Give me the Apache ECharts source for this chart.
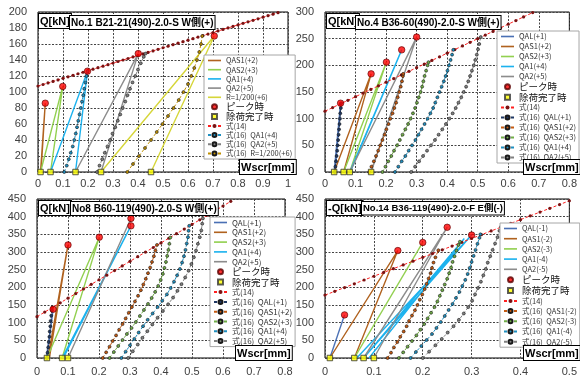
<!DOCTYPE html>
<html>
<head>
<meta charset="utf-8">
<script src="https://cdn.jsdelivr.net/npm/echarts@6/dist/echarts.min.js"></script>
<style>
  html, body { margin: 0; padding: 0; background: #fff; }
  #chart { width: 580px; height: 378px; }
</style>
</head>
<body>
<div id="chart"></div>
<script>
// ---- No.1 B21-21 ----
const p1Eq14 = [[0,107.5],[0.02,109.4],[0.04,111.3],[0.06,113.2],[0.08,115.1],[0.1,117.1],[0.12,119],[0.14,120.9],[0.16,122.8],[0.18,124.7],[0.2,126.6],[0.22,128.5],[0.24,130.4],[0.26,132.3],[0.28,134.2],[0.3,136.2],[0.32,138.1],[0.34,140],[0.36,141.9],[0.38,143.8],[0.4,145.7],[0.42,147.6],[0.44,149.5],[0.46,151.4],[0.48,153.3],[0.5,155.3],[0.52,157.2],[0.54,159.1],[0.56,161],[0.58,162.9],[0.6,164.8],[0.62,166.7],[0.64,168.6],[0.66,170.5],[0.68,172.4],[0.7,174.4],[0.72,176.3],[0.74,178.2],[0.76,180.1],[0.78,182],[0.8,183.9],[0.82,185.8],[0.84,187.7],[0.86,189.6],[0.88,191.5],[0.9,193.5],[0.92,195.4],[0.94,197.3],[0.96,199.2]];
const p1Peak = [[0.029,86],[0.099,107],[0.198,126],[0.401,148],[0.705,170]];
const p1Unload = [[0.01,0],[0.05,0],[0.15,0],[0.252,0],[0.452,0]];
const p1QAS1 = [[0.012,0],[0.029,86],[0.01,0]];
const p1QAS2 = [[0.01,0],[0.099,107],[0.05,0]];
const p1QA1 = [[0.05,0],[0.198,126],[0.15,0]];
const p1QA2 = [[0.15,0],[0.401,148],[0.252,0]];
const p1R200 = [[0.252,0],[0.705,170],[0.452,0]];
const p1Eq16QA1 = [[0.105,0],[0.115,8],[0.123,16],[0.131,24],[0.139,32],[0.145,40],[0.151,48],[0.156,56],[0.161,64],[0.166,72],[0.171,80],[0.176,88],[0.181,96],[0.185,104],[0.19,112],[0.194,120],[0.198,126]];
const p1Eq16QA2 = [[0.236,0],[0.246,8],[0.257,16],[0.267,24],[0.278,32],[0.288,40],[0.298,48],[0.309,56],[0.319,64],[0.329,72],[0.339,80],[0.349,88],[0.358,96],[0.368,104],[0.378,112],[0.389,120],[0.4,128],[0.411,136],[0.423,144],[0.43,148]];
const p1Eq16R200 = [[0.357,0],[0.38,10],[0.404,20],[0.428,30],[0.452,40],[0.475,50],[0.498,60],[0.52,70],[0.542,80],[0.563,90],[0.582,100],[0.6,110],[0.613,120],[0.625,130],[0.636,140],[0.645,150],[0.652,160],[0.657,170]];

// ---- No.4 B36-60 ----
const p2Eq14 = [[0,114],[0.025,120.8],[0.05,127.6],[0.075,134.4],[0.1,141.2],[0.125,148],[0.15,154.8],[0.175,161.6],[0.2,168.4],[0.225,175.2],[0.25,182],[0.275,188.8],[0.3,195.6],[0.325,202.4],[0.35,209.2],[0.375,216],[0.4,222.8],[0.425,229.6],[0.45,236.4],[0.475,243.2],[0.5,250],[0.525,256.8],[0.55,263.6],[0.575,270.4],[0.6,277.2],[0.625,284],[0.65,290.8],[0.68,299]];
const p2Peak = [[0.051,129],[0.151,184],[0.201,206],[0.251,229],[0.3,253]];
const p2Unload = [[0.03,0],[0.061,0],[0.081,0],[0.151,0]];
const p2QAL = [[0.03,0],[0.051,129],[0.033,0]];
const p2QAS1 = [[0.03,0],[0.151,184],[0.061,0]];
const p2QAS2 = [[0.061,0],[0.201,206],[0.081,0]];
const p2QA1 = [[0.081,0],[0.251,229],[0.083,0]];
const p2QA2 = [[0.081,0],[0.3,253],[0.151,0]];
const p2Eq16QAL = [[0.032,0],[0.034,10],[0.036,20],[0.038,30],[0.04,40],[0.0415,50],[0.043,60],[0.0445,70],[0.046,80],[0.0475,90],[0.049,100],[0.05,110],[0.052,120],[0.053,129]];
const p2Eq16QAS1 = [[0.145,0],[0.152,10],[0.16,20],[0.167,30],[0.174,40],[0.181,50],[0.188,60],[0.195,70],[0.201,80],[0.208,90],[0.214,100],[0.221,110],[0.227,120],[0.233,130],[0.238,140],[0.243,150],[0.248,160],[0.252,170],[0.255,180],[0.256,184]];
const p2Eq16QAS2 = [[0.188,0],[0.198,10],[0.207,20],[0.217,30],[0.226,40],[0.236,50],[0.245,60],[0.254,70],[0.263,80],[0.272,90],[0.28,100],[0.288,110],[0.295,120],[0.301,130],[0.307,140],[0.313,150],[0.318,160],[0.322,170],[0.326,180],[0.331,190],[0.336,200],[0.339,206]];
const p2Eq16QA1 = [[0.229,0],[0.24,10],[0.251,20],[0.263,30],[0.274,40],[0.285,50],[0.296,60],[0.306,70],[0.316,80],[0.326,90],[0.336,100],[0.345,110],[0.354,120],[0.361,130],[0.368,140],[0.375,150],[0.382,160],[0.389,170],[0.395,180],[0.401,190],[0.406,200],[0.411,210],[0.416,220],[0.42,229]];
const p2Eq16QA2 = [[0.282,0],[0.295,10],[0.308,20],[0.321,30],[0.334,40],[0.347,50],[0.36,60],[0.372,70],[0.384,80],[0.396,90],[0.407,100],[0.418,110],[0.428,120],[0.437,130],[0.446,140],[0.454,150],[0.462,160],[0.469,170],[0.475,180],[0.481,190],[0.487,200],[0.492,210],[0.497,220],[0.501,230],[0.505,240],[0.51,253]];

// ---- No8 B60-119 ----
const p3Eq14 = [[0,117],[0.025,130],[0.05,143.1],[0.075,156.2],[0.1,169.2],[0.125,182.3],[0.15,195.3],[0.175,208.4],[0.2,221.4],[0.225,234.5],[0.25,247.5],[0.275,260.6],[0.3,273.6],[0.325,286.7],[0.35,299.7],[0.375,312.8],[0.4,325.8],[0.425,338.9],[0.45,351.9],[0.475,365],[0.5,378],[0.525,391.1],[0.55,404.1],[0.575,417.2],[0.6,430.2],[0.625,443.3]];
const p3Peak = [[0.052,138],[0.1,320],[0.201,342],[0.303,374],[0.303,395]];
const p3Unload = [[0.032,0],[0.081,0],[0.1,0]];
const p3QAL = [[0.03,0],[0.052,138],[0.032,0]];
const p3QAS1 = [[0.035,0],[0.1,320],[0.04,0]];
const p3QAS2 = [[0.032,0],[0.201,342],[0.081,0]];
const p3QA1 = [[0.081,0],[0.303,374],[0.085,0]];
const p3QA2 = [[0.1,0],[0.303,395],[0.1,0]];
const p3Eq16QAL = [[0.032,0],[0.034,15],[0.036,30],[0.038,45],[0.04,60],[0.041,75],[0.043,90],[0.044,105],[0.046,120],[0.048,135]];
const p3Eq16QAS1 = [[0.212,0],[0.223,16],[0.234,32],[0.244,48],[0.255,64],[0.265,80],[0.276,96],[0.286,112],[0.296,128],[0.306,144],[0.316,160],[0.326,176],[0.335,192],[0.343,208],[0.351,224],[0.358,240],[0.365,256],[0.371,272],[0.377,288],[0.382,304],[0.387,320]];
const p3Eq16QAS2 = [[0.234,0],[0.248,17],[0.262,34],[0.276,51],[0.29,68],[0.305,85],[0.319,102],[0.332,119],[0.345,136],[0.358,153],[0.37,170],[0.381,187],[0.391,204],[0.399,221],[0.406,238],[0.411,255],[0.416,272],[0.42,289],[0.424,306],[0.427,323],[0.43,341]];
const p3Eq16QA1 = [[0.272,0],[0.286,18],[0.3,36],[0.314,54],[0.328,72],[0.342,90],[0.357,108],[0.373,126],[0.389,144],[0.404,162],[0.419,180],[0.431,198],[0.442,216],[0.452,234],[0.461,252],[0.468,270],[0.474,288],[0.479,306],[0.483,324],[0.487,342],[0.489,360],[0.491,374]];
const p3Eq16QA2 = [[0.294,0],[0.309,19],[0.325,38],[0.34,57],[0.356,76],[0.372,95],[0.389,114],[0.406,133],[0.423,152],[0.439,171],[0.453,190],[0.466,209],[0.478,228],[0.489,247],[0.498,266],[0.506,285],[0.513,304],[0.519,323],[0.525,342],[0.53,361],[0.533,380],[0.535,395]];

// ---- No.14 B36-119 ----
const p4Eq14 = [[0,178],[0.02,188.7],[0.04,199.4],[0.06,210],[0.08,220.7],[0.1,231.4],[0.12,242.1],[0.14,252.8],[0.16,263.4],[0.18,274.1],[0.2,284.8],[0.22,295.5],[0.24,306.2],[0.26,316.8],[0.28,327.5],[0.3,338.2],[0.32,348.9],[0.34,359.6],[0.36,370.2],[0.38,380.9],[0.4,391.6],[0.42,402.3],[0.44,413],[0.46,423.6],[0.48,434.3],[0.5,445]];
const p4Peak = [[0.04,122],[0.149,304],[0.2,327],[0.25,370],[0.3,348]];
const p4Unload = [[0.01,0],[0.06,0],[0.079,0],[0.1,0]];
const p4QAL = [[0.01,0],[0.04,122]];
const p4QAS1 = [[0.01,0],[0.149,304],[0.06,0]];
const p4QAS2 = [[0.06,0],[0.2,327]];
const p4QA1 = [[0.065,0],[0.3,348],[0.079,0],[0.285,338],[0.09,0]];
const p4QA2 = [[0.079,0],[0.25,370],[0.1,0]];
const p4Eq16QAS1 = [[0.128,0],[0.135,15],[0.141,30],[0.148,45],[0.154,60],[0.161,75],[0.167,90],[0.172,105],[0.178,120],[0.184,135],[0.189,150],[0.194,165],[0.199,180],[0.204,195],[0.208,210],[0.212,225],[0.216,240],[0.219,255],[0.222,270],[0.226,285],[0.232,305]];
const p4Eq16QAS2 = [[0.151,0],[0.16,16],[0.169,32],[0.178,48],[0.187,64],[0.195,80],[0.203,96],[0.21,112],[0.217,128],[0.224,144],[0.23,160],[0.235,176],[0.24,192],[0.245,208],[0.25,224],[0.254,240],[0.258,256],[0.261,272],[0.265,288],[0.269,304],[0.273,320],[0.276,329]];
const p4Eq16QA1 = [[0.175,0],[0.186,17],[0.197,34],[0.208,51],[0.219,68],[0.228,85],[0.237,102],[0.245,119],[0.253,136],[0.261,153],[0.268,170],[0.275,187],[0.281,204],[0.287,221],[0.292,238],[0.296,255],[0.3,272],[0.304,289],[0.308,306],[0.312,323],[0.316,340],[0.318,350]];
const p4Eq16QA2 = [[0.2,0],[0.213,18],[0.226,36],[0.239,54],[0.251,72],[0.263,90],[0.274,108],[0.284,126],[0.293,144],[0.301,162],[0.307,180],[0.313,198],[0.319,216],[0.324,234],[0.329,252],[0.333,270],[0.338,288],[0.343,306],[0.348,324],[0.353,342],[0.357,360],[0.36,371]];

const titles = ['No.1 B21-21(490)-2.0-S W側(+)', 'No.4 B36-60(490)-2.0-S W側(+)', 'No8 B60-119(490)-2.0-S W側(+)', 'No.14 B36-119(490)-2.0-F E側(-)'];
const xMax = [1, 0.8, 0.8, 0.5];
const yMax = [200, 300, 450, 450];
const yStep = [20, 50, 50, 50];

const C = { QAL: '#4a70b4', QAS1: '#b0621f', QAS2: '#92d050', QA1: '#1cb2ee', QA2: '#8c8c8c', R: '#d6d63a' };
const F = { QAL: '#1f3864', QAS1: '#c55a11', QAS2: '#70ad47', QA1: '#1f8fc0', QA2: '#808080', R: '#bf9000' };
const CJK = '"Noto Sans CJK JP",sans-serif';
const PLAIN = '"Liberation Sans","Noto Sans CJK JP",sans-serif';

const grids = [
  { left: 38, top: 12, width: 250, height: 160 },
  { left: 325, top: 12, width: 248, height: 160 },
  { left: 37, top: 199, width: 248, height: 159 },
  { left: 325, top: 199, width: 248, height: 159 }
];

const gridLine = { show: true, lineStyle: { color: '#444', width: 1, type: [2, 1.5] } };
const BAR_ICON = 'path://M0,0L16,0L16,2L0,2Z';
const SQ_ICON = 'path://M0,0L1,0L1,1L0,1Z';

function unload(name, data, color, i) {
  return { name, type: 'line', xAxisIndex: i, yAxisIndex: i, data, symbol: 'none', z: 2,
    lineStyle: { color, width: 1.4 }, itemStyle: { color } };
}
function eq16(name, data, color, i) {
  return { name, type: 'line', xAxisIndex: i, yAxisIndex: i, data, symbol: 'circle', symbolSize: 3, showAllSymbol: true, z: 3,
    lineStyle: { color, width: 1, type: [3, 2] }, itemStyle: { color, borderColor: '#1a1a1a', borderWidth: 0.6 } };
}
function eq14(data, i) {
  return { name: '式(14)', type: 'line', xAxisIndex: i, yAxisIndex: i, data, symbol: 'circle', symbolSize: 3.2, showAllSymbol: true, z: 3,
    lineStyle: { color: '#ff2020', width: 1, type: [3, 2] }, itemStyle: { color: '#7a1212' } };
}
function peaks(data, i) {
  return { name: 'ピーク時', type: 'scatter', xAxisIndex: i, yAxisIndex: i, data, symbol: 'circle', symbolSize: 6.5, z: 4,
    itemStyle: { color: '#ff0000', borderColor: '#5a0000', borderWidth: 0.8 } };
}
function residuals(data, i) {
  return { name: '除荷完了時', type: 'scatter', xAxisIndex: i, yAxisIndex: i, data, symbol: 'rect', symbolSize: 5.5, z: 4,
    itemStyle: { color: '#ffff00', borderColor: '#333', borderWidth: 1 } };
}

const series = [
  // panel 1
  unload('QAS1(+2)', p1QAS1, C.QAS1, 0),
  unload('QAS2(+3)', p1QAS2, C.QAS2, 0),
  unload('QA1(+4)', p1QA1, C.QA1, 0),
  unload('QA2(+5)', p1QA2, C.QA2, 0),
  unload('R=1/200(+6)', p1R200, C.R, 0),
  peaks(p1Peak, 0), residuals(p1Unload, 0), eq14(p1Eq14, 0),
  eq16('式(16)  QA1(+4)', p1Eq16QA1, F.QA1, 0),
  eq16('式(16)  QA2(+5)', p1Eq16QA2, F.QA2, 0),
  eq16('式(16)  R=1/200(+6)', p1Eq16R200, F.R, 0),
  // panel 2
  unload('QAL(+1)', p2QAL, C.QAL, 1),
  unload('QAS1(+2)', p2QAS1, C.QAS1, 1),
  unload('QAS2(+3)', p2QAS2, C.QAS2, 1),
  unload('QA1(+4)', p2QA1, C.QA1, 1),
  unload('QA2(+5)', p2QA2, C.QA2, 1),
  peaks(p2Peak, 1), residuals(p2Unload, 1), eq14(p2Eq14, 1),
  eq16('式(16)  QAL(+1)', p2Eq16QAL, F.QAL, 1),
  eq16('式(16)  QAS1(+2)', p2Eq16QAS1, F.QAS1, 1),
  eq16('式(16)  QAS2(+3)', p2Eq16QAS2, F.QAS2, 1),
  eq16('式(16)  QA1(+4)', p2Eq16QA1, F.QA1, 1),
  eq16('式(16)  QA2(+5)', p2Eq16QA2, F.QA2, 1),
  // panel 3
  unload('QAL(+1)', p3QAL, C.QAL, 2),
  unload('QAS1(+2)', p3QAS1, C.QAS1, 2),
  unload('QAS2(+3)', p3QAS2, C.QAS2, 2),
  unload('QA1(+4)', p3QA1, C.QA1, 2),
  unload('QA2(+5)', p3QA2, C.QA2, 2),
  peaks(p3Peak, 2), residuals(p3Unload, 2), eq14(p3Eq14, 2),
  eq16('式(16)  QAL(+1)', p3Eq16QAL, F.QAL, 2),
  eq16('式(16)  QAS1(+2)', p3Eq16QAS1, F.QAS1, 2),
  eq16('式(16)  QAS2(+3)', p3Eq16QAS2, F.QAS2, 2),
  eq16('式(16)  QA1(+4)', p3Eq16QA1, F.QA1, 2),
  eq16('式(16)  QA2(+5)', p3Eq16QA2, F.QA2, 2),
  // panel 4
  unload('QAL(-1)', p4QAL, C.QAL, 3),
  unload('QAS1(-2)', p4QAS1, C.QAS1, 3),
  unload('QAS2(-3)', p4QAS2, C.QAS2, 3),
  unload('QA1(-4)', p4QA1, C.QA1, 3),
  unload('QA2(-5)', p4QA2, C.QA2, 3),
  peaks(p4Peak, 3), residuals(p4Unload, 3), eq14(p4Eq14, 3),
  eq16('式(16)  QAS1(-2)', p4Eq16QAS1, F.QAS1, 3),
  eq16('式(16)  QAS2(-3)', p4Eq16QAS2, F.QAS2, 3),
  eq16('式(16)  QA1(-4)', p4Eq16QA1, F.QA1, 3),
  eq16('式(16)  QA2(-5)', p4Eq16QA2, F.QA2, 3)
];

const legNames = [
  ['QAS1(+2)','QAS2(+3)','QA1(+4)','QA2(+5)','R=1/200(+6)','ピーク時','除荷完了時','式(14)','式(16)  QA1(+4)','式(16)  QA2(+5)','式(16)  R=1/200(+6)'],
  ['QAL(+1)','QAS1(+2)','QAS2(+3)','QA1(+4)','QA2(+5)','ピーク時','除荷完了時','式(14)','式(16)  QAL(+1)','式(16)  QAS1(+2)','式(16)  QAS2(+3)','式(16)  QA1(+4)','式(16)  QA2(+5)'],
  ['QAL(+1)','QAS1(+2)','QAS2(+3)','QA1(+4)','QA2(+5)','ピーク時','除荷完了時','式(14)','式(16)  QAL(+1)','式(16)  QAS1(+2)','式(16)  QAS2(+3)','式(16)  QA1(+4)','式(16)  QA2(+5)'],
  ['QAL(-1)','QAS1(-2)','QAS2(-3)','QA1(-4)','QA2(-5)','ピーク時','除荷完了時','式(14)','式(16)  QAS1(-2)','式(16)  QAS2(-3)','式(16)  QA1(-4)','式(16)  QA2(-5)']
];
// left, top, item gap, font size
const legPos = [[204, 55, 0.2, 7.5], [497, 31, 1, 7.6], [210, 217, 0.8, 8], [500, 223, 1.2, 7.5]];

function legendItem(n) {
  if (n === 'ピーク時') return { name: n, icon: 'circle', textStyle: { fontSize: 9.5, lineHeight: 9, color: '#111' } };
  if (n === '除荷完了時') return { name: n, icon: SQ_ICON, textStyle: { fontSize: 9.5, lineHeight: 9, color: '#111' } };
  if (n.indexOf('式') === 0) return n;
  return { name: n, icon: BAR_ICON };
}

const legends = legNames.map((names, i) => ({
  orient: 'vertical', left: legPos[i][0], top: legPos[i][1], itemGap: legPos[i][2],
  itemWidth: 13, itemHeight: 5, padding: [1, 3], z: 10,
  backgroundColor: '#fff', borderColor: '#a6a6a6', borderWidth: 1, borderRadius: 0,
  selectedMode: false, symbolKeepAspect: true,
  textStyle: { fontSize: legPos[i][3], lineHeight: 9, color: '#333', fontFamily: CJK },
  data: names.map(legendItem)
}));

const boxStyle = (text, size) => ({
  text, font: 'bold ' + size + 'px ' + PLAIN, fill: '#000',
  backgroundColor: '#fff', borderColor: '#000', borderWidth: 1, padding: [2, 1, 1, 1]
});

const graphic = [
  { type: 'text', left: 38, top: 13, z: 100, style: boxStyle('Q[kN]', 11) },
  { type: 'text', left: 69, top: 15, z: 100, style: boxStyle(titles[0], 10) },
  { type: 'text', left: 326, top: 13, z: 100, style: boxStyle('Q[kN]', 11) },
  { type: 'text', left: 355, top: 15, z: 100, style: boxStyle(titles[1], 10) },
  { type: 'text', left: 38, top: 200, z: 100, style: boxStyle('Q[kN]', 11) },
  { type: 'text', left: 70, top: 201, z: 100, style: boxStyle(titles[2], 10) },
  { type: 'text', left: 326, top: 200, z: 100, style: boxStyle('-Q[kN]', 11) },
  { type: 'text', left: 361, top: 201, z: 100, style: boxStyle(titles[3], 9.5) },
  { type: 'text', left: 239, top: 159, z: 100, style: boxStyle('Wscr[mm]', 11) },
  { type: 'text', left: 523, top: 159, z: 100, style: boxStyle('Wscr[mm]', 11) },
  { type: 'text', left: 235, top: 345, z: 100, style: boxStyle('Wscr[mm]', 11) },
  { type: 'text', left: 523, top: 345, z: 100, style: boxStyle('Wscr[mm]', 11) }
];

const chart = echarts.init(document.getElementById('chart'), null, { renderer: 'canvas' });
chart.setOption({
  animation: false,
  backgroundColor: '#fff',
  grid: grids.map(g => Object.assign({ show: true, borderColor: '#000', borderWidth: 1, backgroundColor: '#fff' }, g)),
  xAxis: xMax.map((m, i) => ({
    type: 'value', gridIndex: i, min: 0, max: m, interval: 0.1,
    axisLine: { show: false }, axisTick: { show: false }, splitLine: gridLine,
    axisLabel: { fontSize: 11, color: '#404040', margin: i < 2 ? 6 : 8, fontFamily: 'Liberation Sans' }
  })),
  yAxis: yMax.map((m, i) => ({
    type: 'value', gridIndex: i, min: 0, max: m, interval: yStep[i],
    axisLine: { show: false }, axisTick: { show: false }, splitLine: gridLine,
    axisLabel: { fontSize: 11, color: '#404040', margin: 11, fontFamily: 'Liberation Sans' }
  })),
  legend: legends,
  graphic,
  series
});
</script>
</body>
</html>
